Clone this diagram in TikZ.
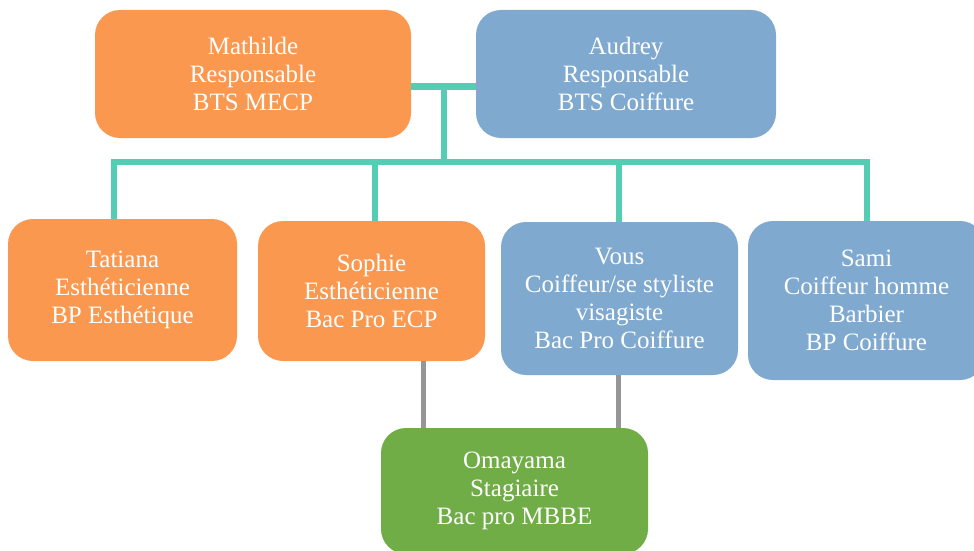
\documentclass[tikz,border=0pt]{standalone}
\usepackage{fontspec}
\setmainfont{Liberation Serif}
\definecolor{orangebox}{RGB}{250,152,80}
\definecolor{bluebox}{RGB}{127,169,206}
\definecolor{greenbox}{RGB}{112,173,71}
\definecolor{tealline}{RGB}{85,204,180}
\definecolor{greyline}{RGB}{150,150,150}
\tikzset{
  box/.style={rounded corners=25pt, text=white, align=center, inner sep=0pt,
    font=\fontsize{25}{28}\selectfont},
  tree/.style={draw=tealline, line width=6.5pt},
  link/.style={draw=greyline, line width=5pt}
}
\begin{document}
\begin{tikzpicture}[x=1pt, y=-1pt]
        \useasboundingbox (0,0) rectangle (974,551);
        \clip (0,0) rectangle (974,551);

        \node [ box, fill=orangebox, minimum width=316pt, minimum height=128pt ] (mathilde) at (253, 74) {Mathilde\\Responsable\\BTS MECP};
        \node [ box, fill=bluebox, minimum width=300pt, minimum height=128pt ] (audrey) at (626, 74) {Audrey\\Responsable\\BTS Coiffure};

        \node [ box, fill=orangebox, minimum width=229pt, minimum height=142pt ] (tatiana) at (122.5, 290) {Tatiana\\Esthéticienne\\BP Esthétique};
        \node [ box, fill=orangebox, minimum width=227pt, minimum height=140pt ] (sophie) at (371.5, 291) {Sophie\\Esthéticienne\\Bac Pro ECP};
        \node [ box, fill=bluebox, minimum width=237pt, minimum height=153pt ] (vous) at (619.5, 298.5) {Vous\\Coiffeur/se styliste\\visagiste\\Bac Pro Coiffure};
        \node [ box, fill=bluebox, minimum width=237pt, minimum height=159pt ] (sami) at (866.5, 300.5) {Sami\\Coiffeur homme\\Barbier\\BP Coiffure};

        \node [ box, fill=greenbox, minimum width=267pt, minimum height=126pt ] (omayama) at (514.5, 491) {Omayama\\Stagiaire\\Bac pro MBBE};

        % responsables -> equipe
        \coordinate (joint) at (444, 86.5);
        \coordinate (busL) at (114, 162);
        \coordinate (busR) at (867, 162);
        \draw [ tree ] (mathilde.east |- joint) -- (audrey.west |- joint);
        \draw [ tree ] (joint) -- (joint |- busL);
        \draw [ tree, line cap=rect ] (busL) -- (busR);
        \draw [ tree ] (busL |- tatiana.north) -- (busL);
        \draw [ tree ] (busR |- sami.north) -- (busR);
        \coordinate (dropS) at (375, 162);
        \coordinate (dropV) at (619, 162);
        \draw [ tree ] (dropS) -- (dropS |- sophie.north);
        \draw [ tree ] (dropV) -- (dropV |- vous.north);

        % tuteurs -> stagiaire
        \coordinate (tutS) at (423, 428);
        \coordinate (tutV) at (618, 428);
        \draw [ link ] (tutS |- sophie.south) -- (tutS);
        \draw [ link ] (tutV |- vous.south) -- (tutV);
\end{tikzpicture}
\end{document}
